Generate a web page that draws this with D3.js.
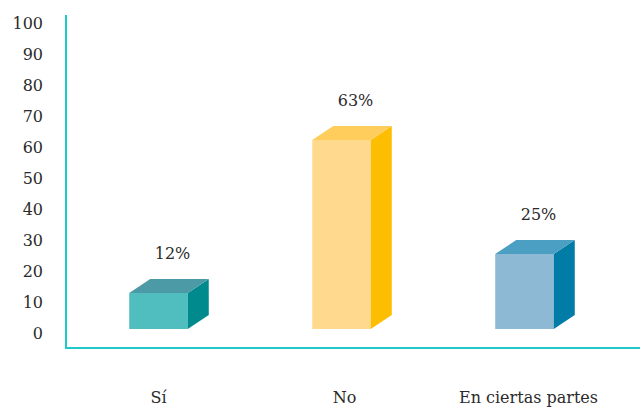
<!DOCTYPE html>
<html><head><meta charset="utf-8">
<script src="https://cdn.jsdelivr.net/npm/d3@7"></script>
<style>body{margin:0;background:#fff}svg{display:block}text{font-family:"DejaVu Serif",serif;fill:#2b2b2b}</style>
</head><body>
<script>
const categories = ["Sí", "No", "En ciertas partes"];
const values = [12, 63, 25];
const valueLabels = ["12%", "63%", "25%"];
const yTicks = [0, 10, 20, 30, 40, 50, 60, 70, 80, 90, 100];
const frontColors = ["#50BEBF", "#FFDA8E", "#8DB9D5"];
const topColors = ["#4C9AA5", "#FFCD5C", "#4A9FC2"];
const sideColors = ["#008A8E", "#FDBD00", "#007CA6"];

const W = 642, H = 407;
const svg = d3.select("body").append("svg").attr("width", W).attr("height", H);

const x = d3.scaleBand().domain(categories).range([67, 616]).paddingInner(0.68).paddingOuter(0.34);
const y = d3.scaleLinear().domain([0, 100]).range([329, 29]);
const yLab = d3.scaleLinear().domain([0, 100]).range([333, 23]);
const dx = 21, dy = 14;
const labelShift = [0, 3, 4];

svg.append("g").selectAll("text").data(yTicks).join("text")
  .attr("x", 43).attr("y", d => yLab(d)).attr("dy", "0.36em")
  .attr("text-anchor", "end").attr("font-size", 16).text(d => d);

const g = svg.append("g");
categories.forEach((c, i) => {
  const x0 = x(c), x1 = x0 + x.bandwidth(), y0 = y(0), yt = y(values[i]);
  g.append("rect").attr("x", x0).attr("y", yt).attr("width", x.bandwidth()).attr("height", y0 - yt).attr("fill", frontColors[i]);
  g.append("path").attr("d", `M${x1},${yt}L${x1+dx},${yt-dy}L${x1+dx},${y0-dy}L${x1},${y0}Z`).attr("fill", sideColors[i]);
  g.append("path").attr("d", `M${x0},${yt}L${x0+dx},${yt-dy}L${x1+dx},${yt-dy}L${x1},${yt}Z`).attr("fill", topColors[i]);
  g.append("text").attr("x", x0 + x.bandwidth()/2 + 14).attr("y", yt - 34)
    .attr("text-anchor", "middle").attr("font-size", 16).text(valueLabels[i]);
  g.append("text").attr("x", x0 + x.bandwidth()/2 + labelShift[i]).attr("y", 403)
    .attr("text-anchor", "middle").attr("font-size", 16).text(c);
});

svg.append("line").attr("x1", 66).attr("x2", 66).attr("y1", 15).attr("y2", 349).attr("stroke", "#1FC9C9").attr("stroke-width", 2);
svg.append("line").attr("x1", 65).attr("x2", 640).attr("y1", 348).attr("y2", 348).attr("stroke", "#1FC9C9").attr("stroke-width", 2);
</script>
</body></html>
